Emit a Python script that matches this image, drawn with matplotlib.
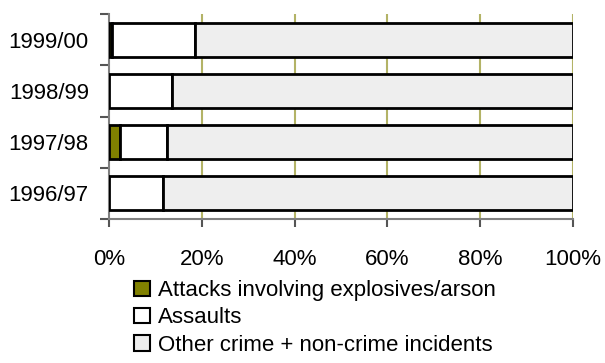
import numpy as np
import matplotlib.pyplot as plt
from matplotlib.patches import Patch

plt.rcParams['font.family'] = ['Liberation Sans', 'DejaVu Sans']

years = ['1996/97', '1997/98', '1998/99', '1999/00']
explosives = [0.0, 2.4, 0.0, 0.6]
assaults = [11.6, 10.1, 13.6, 17.9]
other = [88.4, 87.5, 86.4, 81.5]

labels = ['Attacks involving explosives/arson', 'Assaults',
          'Other crime + non-crime incidents']
colors = ['#808000', '#ffffff', '#eeeeee']

fig = plt.figure(figsize=(6.05, 3.63), dpi=100)
ax = fig.add_axes([0.180, 0.397, 0.767, 0.564])

y = np.arange(len(years))
left = np.zeros(len(years))
for vals, col in zip([explosives, assaults, other], colors):
    ax.barh(y, vals, left=left, height=0.67, color=col,
            edgecolor='black', linewidth=2, zorder=3)
    left += np.array(vals)

ax.set_xlim(0, 100)
ax.set_ylim(-0.5, 3.5)

ax.set_xticks(np.arange(0, 101, 20))
ax.set_xticklabels([f'{v}%' for v in range(0, 101, 20)], fontsize=16)
for x in range(20, 101, 20):
    ax.axvline(x, color='#b3b366', linewidth=1.5, zorder=1)

ax.set_yticks(y)
ax.set_yticklabels(years, fontsize=16)
ax.set_yticks(np.arange(-0.5, 4, 1), minor=True)
ax.tick_params(axis='y', which='major', length=0, pad=14.5)
ax.tick_params(axis='y', which='minor', length=6.5, width=1.5, color='#555555')
ax.tick_params(axis='x', length=6, width=1.5, color='#555555', pad=16)

for s in ['top', 'right']:
    ax.spines[s].set_visible(False)
for s in ['left', 'bottom']:
    ax.spines[s].set_color('#808080')
    ax.spines[s].set_linewidth(1.5)

handles = [Patch(facecolor=c, edgecolor='black', linewidth=1.5) for c in colors]
fig.legend(handles, labels, loc='upper left', bbox_to_anchor=(0.222, 0.228),
           frameon=False, fontsize=16, handlelength=0.7, handleheight=0.7,
           handletextpad=0.35, labelspacing=0.28, borderpad=0, borderaxespad=0)

fig.savefig('out.png', dpi=100)
